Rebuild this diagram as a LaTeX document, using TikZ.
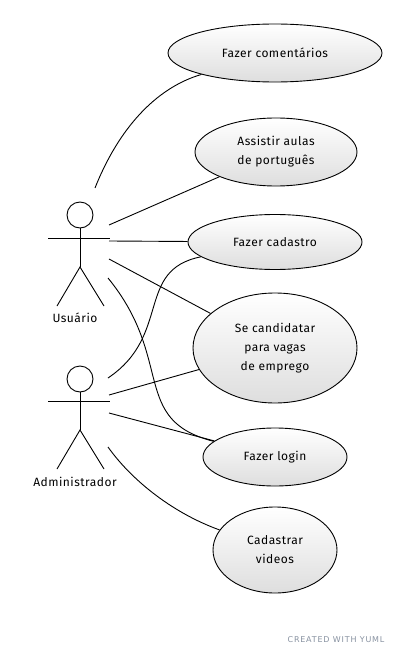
\documentclass[tikz,border=0pt]{standalone}
\usepackage{fontspec}
\setmainfont[LetterSpace=4]{Fira Sans}
\newfontfamily\creditfont[LetterSpace=10]{DejaVu Sans}
\usetikzlibrary{shapes.geometric}
\definecolor{creditgray}{RGB}{135,145,160}

\begin{document}
\begin{tikzpicture}[x=1pt,y=-1pt,line width=0.9pt,
  usecase/.style={ellipse,draw,inner sep=0pt,top color=white,bottom color=black!13,
    font=\fontsize{12}{19}\selectfont,align=center},
  actor/.style={circle,draw,minimum size=26pt,inner sep=0pt},
  actorname/.style={font=\fontsize{12}{19}\selectfont}]
\useasboundingbox (0,0) rectangle (405,655);
% use cases
\node[usecase,minimum width=214pt,minimum height=58pt] (FC) at (275,53) {Fazer comentários};
\node[usecase,minimum width=162pt,minimum height=68pt] (AA) at (276,152) {Assistir aulas\\de português};
\node[usecase,minimum width=174pt,minimum height=55pt] (CD) at (275,242) {Fazer cadastro};
\node[usecase,minimum width=164pt,minimum height=110pt] (SC) at (275,348) {Se candidatar\\para vagas\\de emprego};
\node[usecase,minimum width=144pt,minimum height=58pt] (FL) at (275,457) {Fazer login};
\node[usecase,minimum width=124pt,minimum height=86pt] (CV) at (275,550) {Cadastrar\\videos};
% actors
\node[actor] (user) at (80,215) {};
\draw (48,238) -- (110,238);
\draw (user.south) -- (80,267) coordinate (userhip);
\draw (57,306) -- (userhip) -- (104,306);
\node[actorname] (userlbl) at (75,318) {Usuário};
\node[actor] (admin) at (80,379) {};
\draw (48,401) -- (110,401);
\draw (admin.south) -- (80,430) coordinate (adminhip);
\draw (57,469) -- (adminhip) -- (104,469);
\node[actorname] (adminlbl) at (75,482) {Administrador};
% line ends at the actors
\coordinate (u1) at (95,188);
\coordinate (u2) at (109,225);
\coordinate (u3) at (109,241);
\coordinate (u4) at (109,259);
\coordinate (u5) at (108,278);
\coordinate (a1) at (108,378);
\coordinate (a2) at (109,395);
\coordinate (a3) at (109,413);
\coordinate (a4) at (108,447);
% associations
\draw (u1) .. controls (118,130) and (155,88) .. (FC);
\draw (u2) -- (AA);
\draw (u3) -- (CD);
\draw (u4) -- (SC);
\draw (u5) .. controls (175,360) and (130,420) .. (FL);
\draw (a1) .. controls (172,335) and (135,270) .. (CD);
\draw (a2) -- (SC);
\draw (a3) -- (FL);
\draw (a4) .. controls (130,478) and (170,512) .. (CV);
\node[text=creditgray,font=\creditfont\fontsize{8}{9}\selectfont] (credit) at (336,640) {CREATED WITH YUML};
\end{tikzpicture}
\end{document}
